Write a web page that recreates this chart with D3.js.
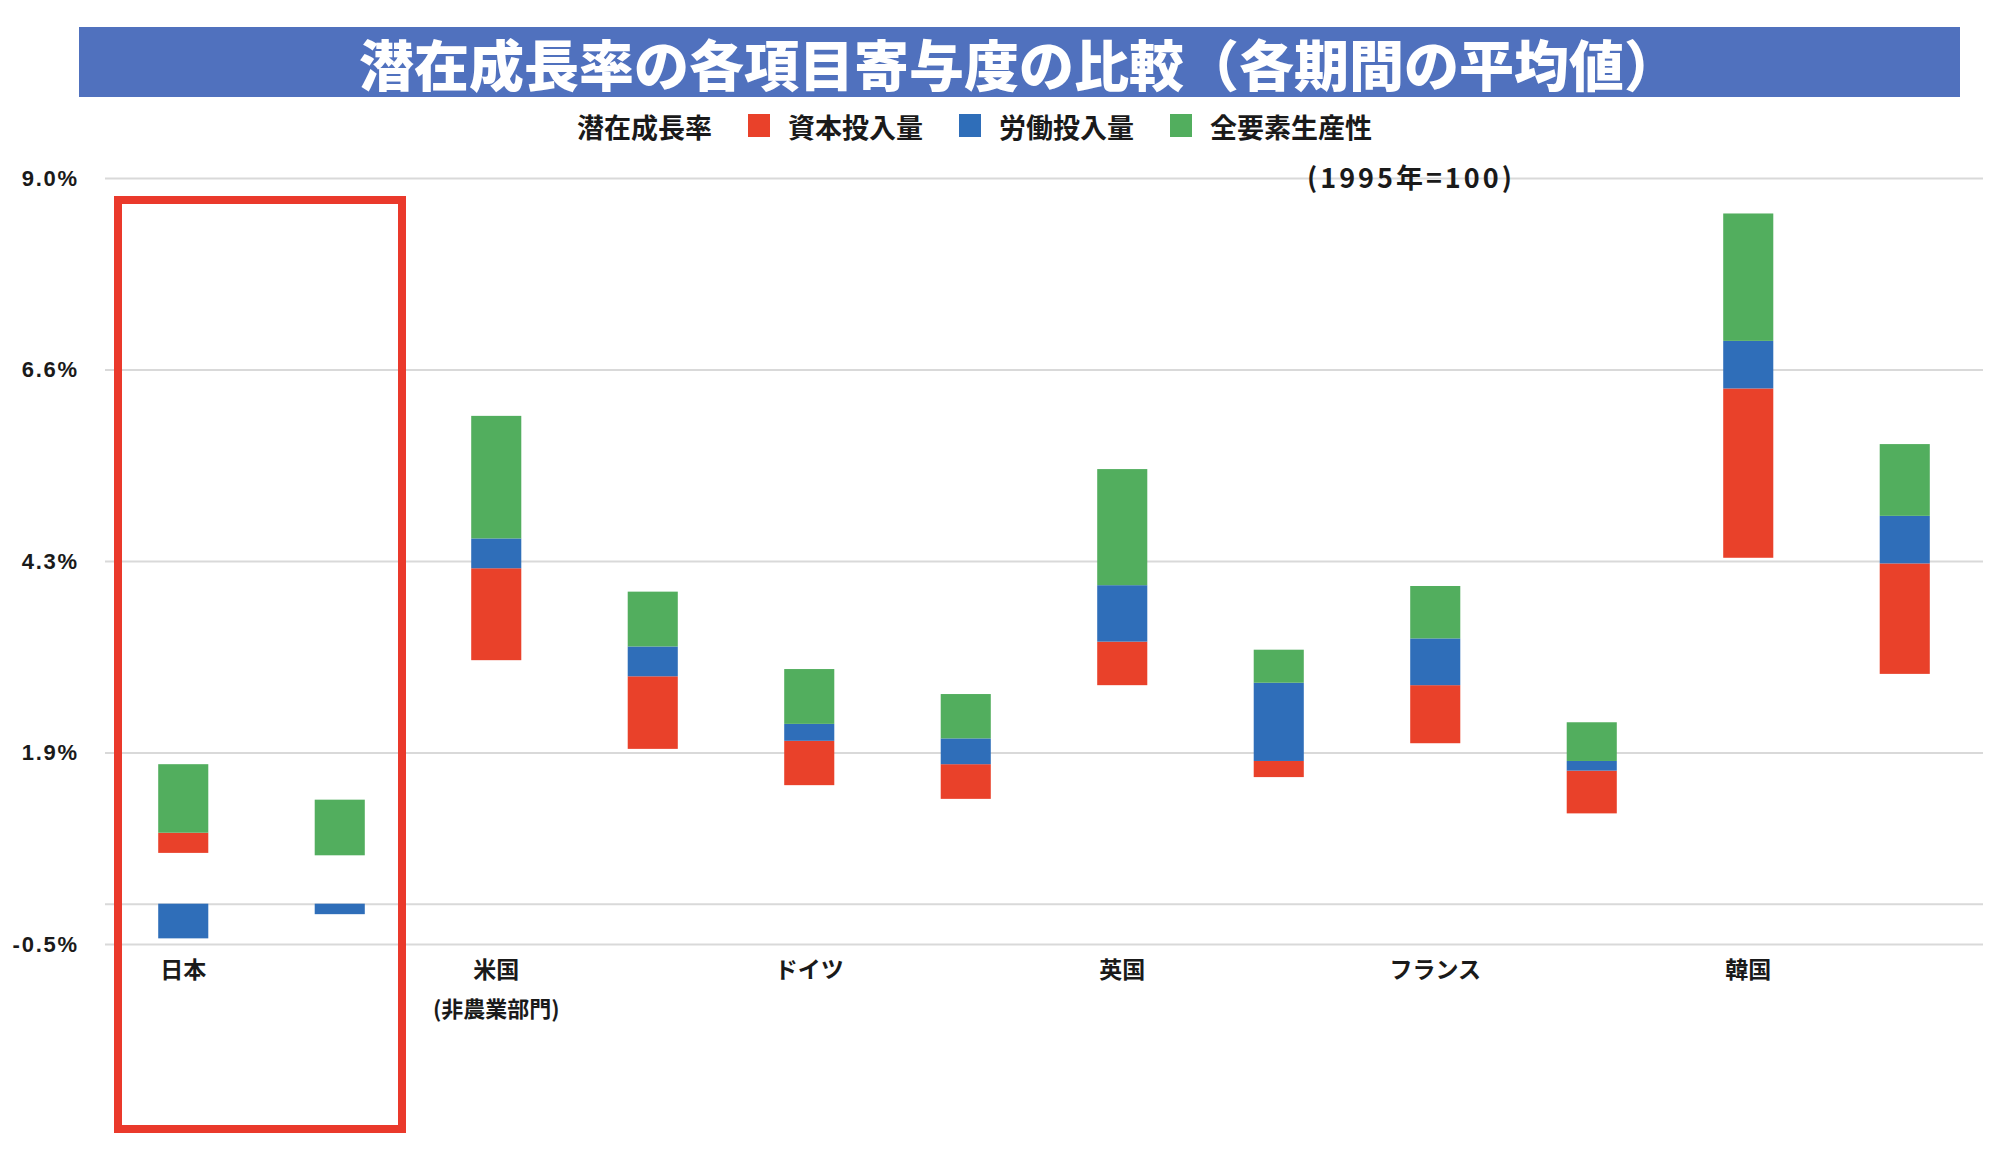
<!DOCTYPE html>
<html>
<head>
<meta charset="utf-8">
<script src="https://cdn.jsdelivr.net/npm/d3@7"></script>
<style>
    body { margin: 0; background: #fff; }
    text { font-family: "Noto Sans CJK JP", sans-serif; font-weight: bold; }
</style>
</head>
<body>
<svg id="chart"></svg>
<script>

// two bars per country (earlier / later period)
var COUNTRIES = ["日本", "米国", "ドイツ", "英国", "フランス", "韓国"];
var COUNTRY_NOTES = ["", "(非農業部門)", "", "", "", ""];
var BARS = ["日本_1", "日本_2", "米国_1", "米国_2", "ドイツ_1", "ドイツ_2",
            "英国_1", "英国_2", "フランス_1", "フランス_2", "韓国_1", "韓国_2"];

var SERIES = ["潜在成長率", "資本投入量", "労働投入量", "全要素生産性"];

// 潜在成長率 is drawn as an invisible base, the three contributions float on top of it
var POTENTIAL = [0.63, 0.60, 3.02, 1.92, 1.47, 1.30, 2.71, 1.57, 1.99, 1.12, 4.29, 2.85];
var CAPITAL   = [0.25, 0.00, 1.14, 0.90, 0.55, 0.43, 0.54, 0.20, 0.72, 0.53, 2.10, 1.37];
var LABOR     = [-0.43, -0.13, 0.37, 0.37, 0.21, 0.32, 0.70, 0.97, 0.58, 0.12, 0.59, 0.59];
var TFP       = [0.85, 0.69, 1.52, 0.68, 0.68, 0.55, 1.44, 0.41, 0.65, 0.48, 1.58, 0.89];

var Y_TICKS = [-0.5, 1.875, 4.25, 6.625, 9.0];
var Y_TICK_LABELS = ["-0.5%", "1.9%", "4.3%", "6.6%", "9.0%"];

var TITLE = "潜在成長率の各項目寄与度の比較（各期間の平均値）";
var NOTE = "(1995年=100)";

var COLORS = ["none", "#e9412a", "#2f6eb9", "#52ae5e"];

make_chart = function () {

    width = 2000;
    height = 1170;
    plot = ({ left: 105, right: 1983, top: 178, bottom: 944 });

    var rows = BARS.map(function (b, i) {
        var r = { bar: b };
        r[SERIES[0]] = POTENTIAL[i];
        r[SERIES[1]] = CAPITAL[i];
        r[SERIES[2]] = LABOR[i];
        r[SERIES[3]] = TFP[i];
        return r;
    });

    series = d3.stack().keys(SERIES).offset(d3.stackOffsetDiverging)(rows);

    color = d3.scaleOrdinal().domain(SERIES).range(COLORS);

    x = d3.scaleBand()
        .domain(BARS)
        .range([plot.left, plot.right])
        .paddingInner(0.68)
        .paddingOuter(0.34);

    y = d3.scaleLinear()
        .domain([-0.5, 9.0])
        .range([plot.bottom, plot.top]);

    const svg = d3.select("#chart")
        .attr("width", width)
        .attr("height", height)
        .attr("viewBox", [0, 0, width, height]);

    // grid + y labels (extra line at 0)
    var yAxis = g => g
        .attr("transform", `translate(${plot.left},0)`)
        .call(d3.axisLeft(y)
            .tickValues(Y_TICKS.concat([0]))
            .tickSize(-(plot.right - plot.left))
            .tickPadding(26)
            .tickFormat(d => {
                var i = Y_TICKS.indexOf(d);
                return i < 0 ? "" : Y_TICK_LABELS[i];
            }))
        .call(g => g.select(".domain").remove())
        .call(g => g.selectAll(".tick line").attr("stroke", "#d9d9d9").attr("stroke-width", 2))
        .call(g => g.selectAll(".tick text")
            .attr("fill", "#1a1a1a")
            .style("font-family", "'Liberation Sans', Arial, sans-serif")
            .style("font-size", "22px")
            .style("letter-spacing", "1.8px"));

    svg.append("g").call(yAxis);

    svg.append("g")
        .selectAll("g")
        .data(series)
        .join("g")
        .attr("fill", d => color(d.key))
        .selectAll("rect")
        .data(d => d)
        .join("rect")
        .attr("x", d => x(d.data.bar))
        .attr("y", d => y(Math.max(d[0], d[1])))
        .attr("height", d => Math.abs(y(d[0]) - y(d[1])))
        .attr("width", x.bandwidth());

    // country labels under the first bar of each pair
    var lab = svg.append("g")
        .selectAll("text")
        .data(COUNTRIES)
        .join("text")
        .attr("x", (d, i) => x(BARS[i * 2]) + x.bandwidth() / 2)
        .attr("y", 968)
        .attr("text-anchor", "middle")
        .attr("dominant-baseline", "central")
        .attr("font-size", 23)
        .attr("fill", "#1a1a1a");
    lab.append("tspan").text(d => d);
    lab.append("tspan")
        .attr("x", (d, i) => x(BARS[i * 2]) + x.bandwidth() / 2)
        .attr("dy", 39)
        .attr("font-size", 22)
        .text((d, i) => COUNTRY_NOTES[i]);

    // red box round Japan
    svg.append("rect")
        .attr("x", plot.left + 13)
        .attr("y", 200)
        .attr("width", x.step() * 2 - 29)
        .attr("height", 929)
        .attr("fill", "none")
        .attr("stroke", "#ea392b")
        .attr("stroke-width", 8);

    // legend
    var leg = svg.append("g")
        .selectAll("g")
        .data(SERIES)
        .join("g")
        .attr("transform", (d, i) => `translate(${537 + i * 211},114)`);
    leg.append("rect")
        .attr("width", 22)
        .attr("height", 23)
        .attr("fill", d => color(d));
    leg.append("text")
        .attr("x", 40)
        .attr("y", 12)
        .attr("dominant-baseline", "central")
        .attr("font-size", 27)
        .attr("fill", "#1a1a1a")
        .text(d => d);

    svg.append("text")
        .attr("x", 1307)
        .attr("y", 176)
        .attr("dominant-baseline", "central")
        .attr("font-size", 27)
        .style("letter-spacing", "3px")
        .attr("fill", "#1a1a1a")
        .text(NOTE);

    // title band
    svg.append("rect")
        .attr("x", 79)
        .attr("y", 27)
        .attr("width", 1881)
        .attr("height", 70)
        .attr("fill", "#5071be");

    svg.append("text")
        .attr("x", 1019)
        .attr("y", 62)
        .attr("text-anchor", "middle")
        .attr("dominant-baseline", "central")
        .attr("font-size", 55)
        .style("font-weight", 900)
        .attr("fill", "#fff")
        .text(TITLE);
}

make_chart();

</script>
</body>
</html>
